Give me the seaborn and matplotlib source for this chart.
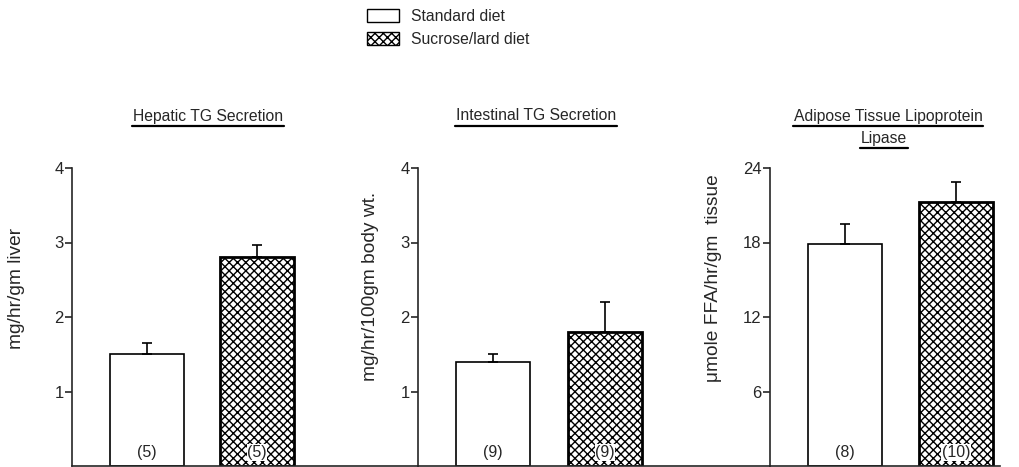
import seaborn as sns
import matplotlib.pyplot as plt
import matplotlib.transforms as mtransforms
from matplotlib.patches import Patch
from matplotlib.lines import Line2D
import pandas as pd

# values
diets = ["Standard diet", "Sucrose/lard diet"]
hepatic_mean = [1.5, 2.8]
hepatic_sem = [0.15, 0.17]
hepatic_n = ["(5)", "(5)"]
intestinal_mean = [1.4, 1.8]
intestinal_sem = [0.1, 0.4]
intestinal_n = ["(9)", "(9)"]
lpl_mean = [17.9, 21.3]
lpl_sem = [1.6, 1.6]
lpl_n = ["(8)", "(10)"]

sns.set_style("ticks")
plt.rcParams['font.family'] = ['Liberation Sans', 'DejaVu Sans']
plt.rcParams['hatch.linewidth'] = 1.0
plt.rcParams['hatch.color'] = 'black'

W, H = 1020, 467
fig = plt.figure(figsize=(W / 100, H / 100), dpi=100)

panels = [
    # left px, right px, bar spacing px, means, sems, n, ylim, ticks, ylabel, label x px, label y px
    (72, 418, 110, hepatic_mean, hepatic_sem, hepatic_n, 4, [1, 2, 3, 4],
     "mg/hr/gm liver", 17, 288),
    (418, 770, 112, intestinal_mean, intestinal_sem, intestinal_n, 4, [1, 2, 3, 4],
     "mg/hr/100gm body wt.", 371, 286),
    (770, 1000, 111, lpl_mean, lpl_sem, lpl_n, 24, [6, 12, 18, 24],
     "\u03bcmole FFA/hr/gm  tissue", 714, 278),
]

for left, right, step, means, sems, ns, ytop, ticks, ylab, lx, ly in panels:
    ax = fig.add_axes([left / W, 1 / H, (right - left) / W, 298 / H])
    df = pd.DataFrame({"diet": diets, "value": means})
    sns.barplot(data=df, x="diet", y="value", ax=ax, errorbar=None,
                color="white", edgecolor="black", linewidth=1.2, width=74 / step)
    bars = ax.patches
    bars[1].set_hatch("xxxx")
    bars[1].set_linewidth(2.0)
    ax.errorbar([0, 1], means, yerr=[[0, 0], sems], fmt="none", ecolor="black",
                elinewidth=1.2, capsize=3.6, capthick=1.2, zorder=5)
    trans = mtransforms.blended_transform_factory(ax.transData, ax.transAxes)
    for i, n in enumerate(ns):
        ax.text(i, 0.045, n, transform=trans, ha="center", va="center", fontsize=11.5,
                bbox=dict(facecolor="white", edgecolor="none", pad=0.5), zorder=6)
    ax.set_xlim(-75 / step, (right - left - 75) / step)
    ax.set_ylim(0, ytop)
    ax.set_yticks(ticks)
    ax.set_xticks([])
    ax.set_xlabel("")
    ax.set_ylabel("")
    ax.tick_params(axis="y", direction="out", length=5, width=1.2, labelsize=12, pad=1)
    for s in ["top", "right"]:
        ax.spines[s].set_visible(False)
    ax.spines["left"].set_linewidth(1.2)
    ax.spines["bottom"].set_linewidth(1.2)
    ax.set_facecolor("none")
    fig.text(lx / W, 1 - ly / H, ylab, rotation=90, ha="center", va="center", fontsize=13.8)

# underlined panel titles
titles = [
    ("Hepatic TG Secretion", 208, 116),
    ("Intestinal TG Secretion", 536, 116),
    ("Adipose Tissue Lipoprotein", 888, 116),
    ("Lipase", 884, 138),
]
title_texts = [fig.text(x / W, 1 - y / H, t, ha="center", va="center", fontsize=11.3)
               for t, x, y in titles]
fig.canvas.draw()
renderer = fig.canvas.get_renderer()
for txt in title_texts:
    bb = txt.get_window_extent(renderer)
    yline = bb.y0 - 2
    fig.add_artist(Line2D([(bb.x0 - 1) / W, (bb.x1 + 1) / W], [yline / H, yline / H],
                          color="black", linewidth=1.6, transform=fig.transFigure))

handles = [Patch(facecolor="white", edgecolor="black", linewidth=1.0, label=diets[0]),
           Patch(facecolor="white", edgecolor="black", linewidth=1.0, hatch="xxxx", label=diets[1])]
fig.legend(handles=handles, loc="upper left", bbox_to_anchor=(367 / W, 1 - 9 / H),
           frameon=False, fontsize=11.3, handlelength=2.05, handleheight=0.85,
           handletextpad=0.75, labelspacing=0.5, borderpad=0, borderaxespad=0)

fig.savefig("out.png", dpi=100)
